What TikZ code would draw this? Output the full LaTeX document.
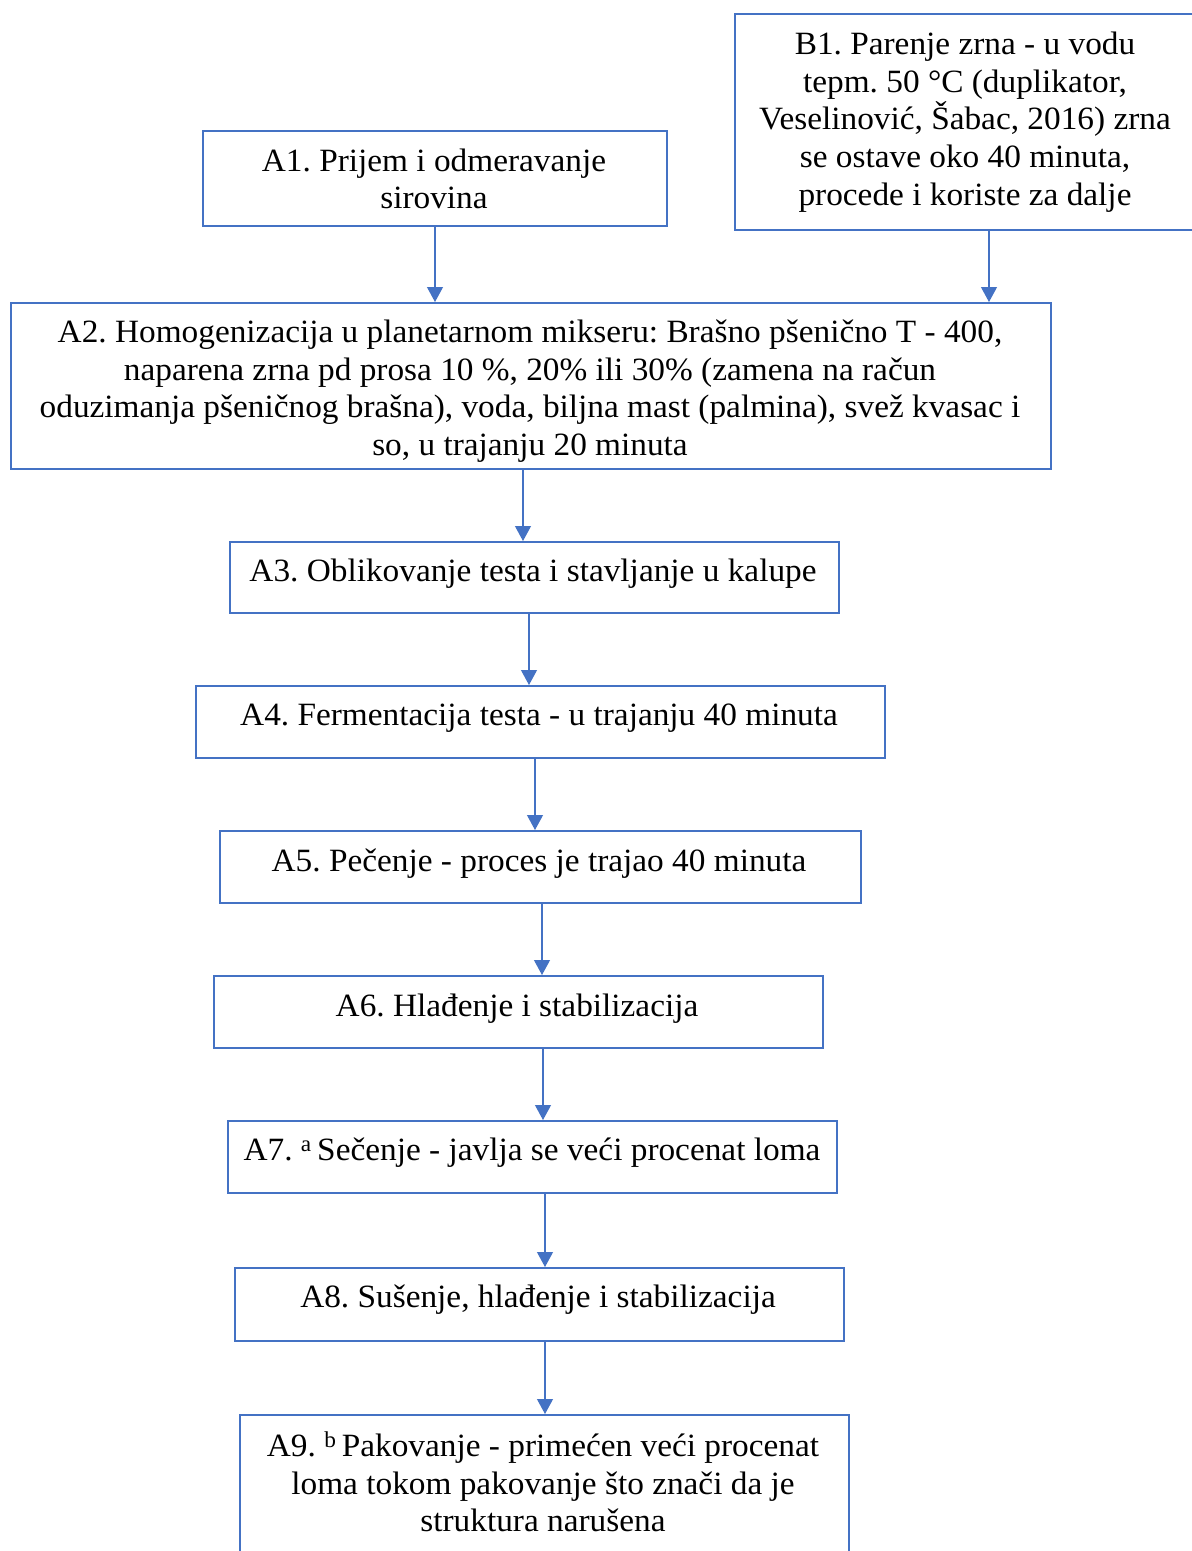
\documentclass[tikz,border=0pt]{standalone}
\usepackage{fontspec}
\setmainfont{Liberation Serif}[FakeStretch=1.025]
\frenchspacing
\usetikzlibrary{arrows.meta}
\definecolor{bl}{HTML}{4472C4}
\begin{document}
\begin{tikzpicture}[x=1pt,y=-1pt,
  box/.style={draw=bl,line width=1.8pt,inner sep=0pt,anchor=north west},
  txt/.style={align=center,font=\fontsize{32.5}{37.6}\selectfont,inner sep=0pt},
  arr/.style={draw=bl,line width=1.1pt,-{Triangle[width=16pt,length=15pt]}}]
\useasboundingbox (0,0) rectangle (1192,1551);
% boxes
\node[box,minimum width=463pt,minimum height=216pt] (b1) at (734,13) {};
\node[box,minimum width=464pt,minimum height=95pt] (a1) at (202,130) {};
\node[box,minimum width=1040pt,minimum height=166pt] (a2) at (10,302) {};
\node[box,minimum width=609pt,minimum height=71pt] (a3) at (229,541) {};
\node[box,minimum width=689pt,minimum height=72pt] (a4) at (195,685) {};
\node[box,minimum width=641pt,minimum height=72pt] (a5) at (219,830) {};
\node[box,minimum width=609pt,minimum height=72pt] (a6) at (213,975) {};
\node[box,minimum width=609pt,minimum height=72pt] (a7) at (227,1120) {};
\node[box,minimum width=609pt,minimum height=73pt] (a8) at (234,1267) {};
\node[box,minimum width=609pt,minimum height=170pt] (a9) at (239,1414) {};
% texts
\node[txt] (b1t) at (965,122) {B1. Parenje zrna - u vodu\\tepm. 50 °C (duplikator,\\Veselinović, Šabac, 2016) zrna\\se ostave oko 40 minuta,\\procede i koriste za dalje};
\node[txt] (a1t) at (434,179) {A1. Prijem i odmeravanje\\sirovina};
\node[txt] (a2t) at (530,391) {A2. Homogenizacija u planetarnom mikseru: Brašno pšenično T - 400,\\naparena zrna pd prosa 10 \%, 20\% ili 30\% (zamena na račun\\oduzimanja pšeničnog brašna), voda, biljna mast (palmina), svež kvasac i\\so, u trajanju 20 minuta};
\node[txt] (a3t) at (533,574) {A3. Oblikovanje testa i stavljanje u kalupe};
\node[txt] (a4t) at (539,718) {A4. Fermentacija testa - u trajanju 40 minuta};
\node[txt] (a5t) at (539,864) {A5. Pečenje - proces je trajao 40 minuta};
\node[txt] (a6t) at (517,1009) {A6. Hlađenje i stabilizacija};
\node[txt] (a7t) at (532,1153) {A7. \textsuperscript{a}\,Sečenje - javlja se veći procenat loma};
\node[txt] (a8t) at (538,1300) {A8. Sušenje, hlađenje i stabilizacija};
\node[txt] (a9t) at (543,1482) {A9. \textsuperscript{b}\,Pakovanje - primećen veći procenat\\loma tokom pakovanje što znači da je\\struktura narušena};
% arrow columns
\coordinate (cb) at (989,0);
\coordinate (c1) at (435,0);
\coordinate (c2) at (523,0);
\coordinate (c3) at (529,0);
\coordinate (c4) at (535,0);
\coordinate (c5) at (542,0);
\coordinate (c6) at (543,0);
\coordinate (c7) at (545,0);
\draw[arr] (b1.south -| cb) -- (a2.north -| cb);
\draw[arr] (a1.south -| c1) -- (a2.north -| c1);
\draw[arr] (a2.south -| c2) -- (a3.north -| c2);
\draw[arr] (a3.south -| c3) -- (a4.north -| c3);
\draw[arr] (a4.south -| c4) -- (a5.north -| c4);
\draw[arr] (a5.south -| c5) -- (a6.north -| c5);
\draw[arr] (a6.south -| c6) -- (a7.north -| c6);
\draw[arr] (a7.south -| c7) -- (a8.north -| c7);
\draw[arr] (a8.south -| c7) -- (a9.north -| c7);
\end{tikzpicture}
\end{document}
